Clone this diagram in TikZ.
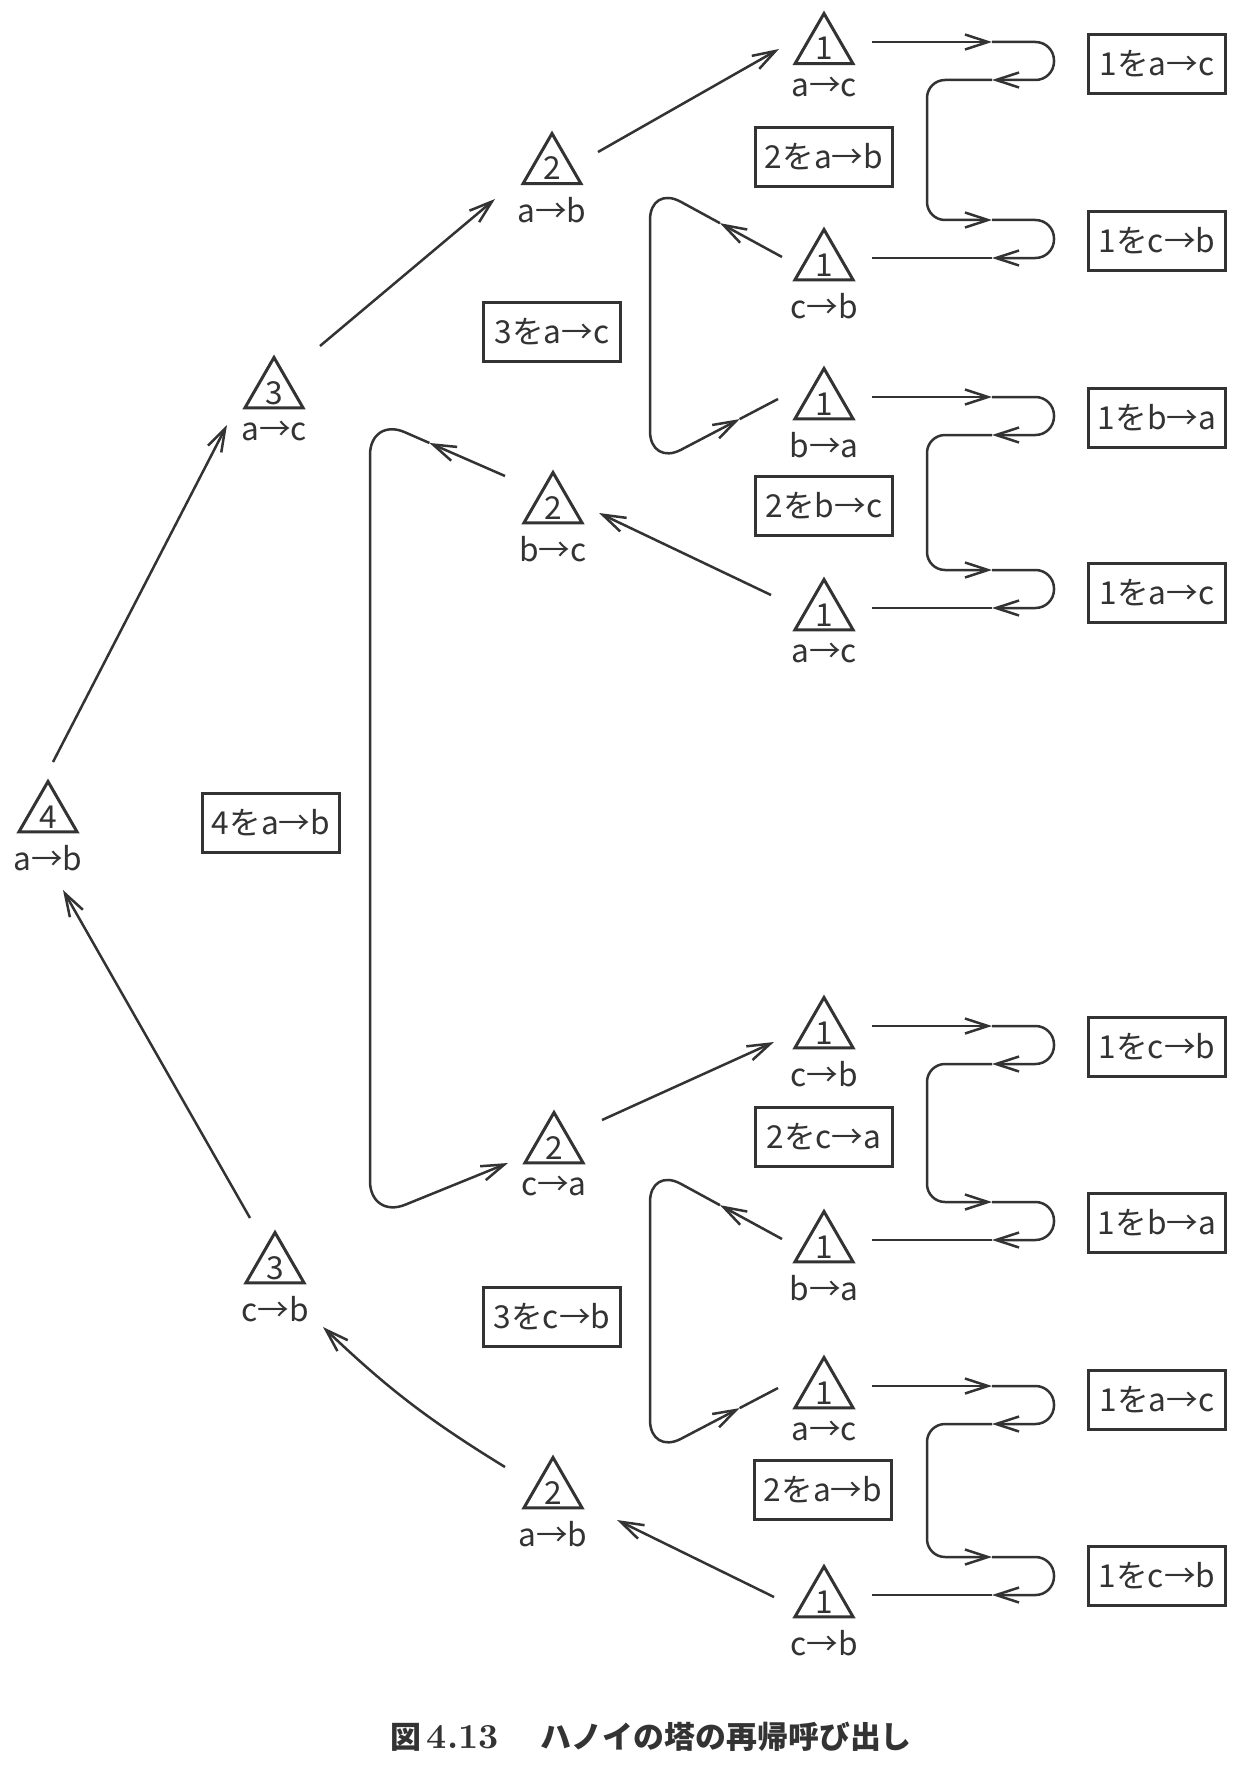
\documentclass[tikz,border=0pt]{standalone}
\usepackage{fontspec}
\newfontfamily\jpfont{Noto Sans CJK JP}
\usepackage{tikz}
\usetikzlibrary{positioning, shapes.geometric, calc, arrows.meta}

\definecolor{ink}{HTML}{333333}

\tikzset{
  calltri/.style={regular polygon, regular polygon sides=3, draw=ink, line width=0.3mm,
    minimum size=6.7mm, inner sep=0pt, text=ink, font=\jpfont\fontsize{9}{10}\selectfont},
  pegtext/.style={inner sep=0pt, text=ink, font=\jpfont\fontsize{9}{10}\selectfont},
  movebox/.style={draw=ink, line width=0.3mm, minimum width=13.7mm, minimum height=5.9mm,
    inner sep=0pt, text=ink, font=\jpfont\fontsize{9}{10}\selectfont},
  wire/.style={draw=ink, line width=0.25mm},
  flow/.style={wire, -{Straight Barb[length=2.3mm, width=1.5mm]}}
}

% triangle with the number of discs, the move written below it
\newcommand\callnode[4]{%
  \node[calltri] (#1) at (#2) {\smash{\raisebox{-1.3mm}{#3}}};
  \node[pegtext, below=1.1mm of #1] (#1l) {#4};
}

\begin{document}
\begin{tikzpicture}[x=0.1mm, y=-0.1mm]
  \useasboundingbox (0,0) rectangle (1244,1771);

  % Calls
  \callnode{t4}{48,815}{4}{a→b}
  \callnode{t3a}{274,391}{3}{a→c}
  \callnode{t3b}{275,1266}{3}{c→b}
  \callnode{t2a}{552,167}{2}{a→b}
  \callnode{t2b}{553,506}{2}{b→c}
  \callnode{t2c}{554,1146}{2}{c→a}
  \callnode{t2d}{553,1491}{2}{a→b}
  \callnode{t1a}{824,47}{1}{a→c}
  \callnode{t1b}{824,263}{1}{c→b}
  \callnode{t1c}{824,402}{1}{b→a}
  \callnode{t1d}{824,613}{1}{a→c}
  \callnode{t1e}{824,1031}{1}{c→b}
  \callnode{t1f}{824,1245}{1}{b→a}
  \callnode{t1g}{824,1391}{1}{a→c}
  \callnode{t1h}{824,1600}{1}{c→b}

  % Moves
  \node[movebox] (b4) at (271,823) {4をa→b};
  \node[movebox] (b3a) at (552,332) {3をa→c};
  \node[movebox] (b3b) at (552,1317) {3をc→b};
  \node[movebox] (b2a) at (824,157) {2をa→b};
  \node[movebox] (b2b) at (824,506) {2をb→c};
  \node[movebox] (b2c) at (824,1137) {2をc→a};
  \node[movebox] (b2d) at (823,1490) {2をa→b};
  \node[movebox] (b1a) at (1157,64) {1をa→c};
  \node[movebox] (b1b) at (1157,241) {1をc→b};
  \node[movebox] (b1c) at (1157,418) {1をb→a};
  \node[movebox] (b1d) at (1157,593) {1をa→c};
  \node[movebox] (b1e) at (1157,1047) {1をc→b};
  \node[movebox] (b1f) at (1157,1223) {1をb→a};
  \node[movebox] (b1g) at (1157,1400) {1をa→c};
  \node[movebox] (b1h) at (1157,1576) {1をc→b};

  % Lanes
  \coordinate (tipx) at (992,0);
  \coordinate (turnx) at (1054,0);
  \coordinate (lane1) at (927,0);
  \coordinate (lane2) at (650,0);
  \coordinate (lane3) at (370,0);

  % Calls going down
  \draw[flow] ($(t4)+(5,-53)$) -- ($(t3a)+(-47,34)$);
  \draw[flow] ($(t3a)+(46,-45)$) -- ($(t2a)+(-57,32)$);
  \draw[flow] ($(t2a)+(46,-15)$) -- ($(t1a)+(-45,2)$);
  \draw[flow] ($(t2c)+(48,-26)$) -- ($(t1e)+(-50,11)$);

  % Returns
  \draw[flow] ($(t1d)+(-53,-18)$) -- ($(t2b)+(46,7)$);
  \draw[flow] ($(t1h)+(-50,-3)$) -- ($(t2d)+(64,29)$);
  \draw[flow] ($(t2d)+(-48,-24)$) to[bend left=6] ($(t3b)+(48,61)$);
  \draw[flow] ($(t3b)+(-25,-48)$) -- ($(t4)+(15,75)$);

  % Loops round the one-disc moves
  \foreach \up/\dn in {t1a/t1b, t1c/t1d, t1e/t1f, t1g/t1h} {
    \path ($(\up)+(48,-5)$) coordinate (s) ++(0,38) coordinate (r)
          ($(\dn)+(48,-5)$) coordinate (e) ++(0,-38) coordinate (f);
    \draw[flow] (s) -- (s -| tipx);
    \draw[flow, rounded corners=1.85mm] (s -| tipx) -- (s -| turnx) -- (r -| turnx) -- (r -| tipx);
    \draw[flow, rounded corners=1.8mm] (r -| tipx) -- (r -| lane1) -- (f -| lane1) -- (f -| tipx);
    \draw[flow, rounded corners=1.85mm] (f -| tipx) -- (f -| turnx) -- (e -| turnx) -- (e -| tipx);
    \draw[wire] (e -| tipx) -- (e);
  }

  % Passing the two-disc moves
  \foreach \up/\dn in {t1b/t1c, t1f/t1g} {
    \path ($(\up)+(-42,-6)$) coordinate (s)
          ($(\up)+(0,-78)$) coordinate (ph)
          ($(\dn)+(0,64)$) coordinate (pl)
          ($(\dn)+(-46,-3)$) coordinate (e);
    \path (ph -| lane2) coordinate (p1) (pl -| lane2) coordinate (p2);
    \draw[flow] (s) -- ($(s)!0.47!(p1)$);
    \draw[flow, rounded corners=3.5mm] ($(s)!0.47!(p1)$) -- (p1) -- (p2) -- ($(p2)!0.7!(e)$);
    \draw[wire] ($(p2)!0.7!(e)$) -- (e);
  }

  % Passing the four-disc move
  \path ($(t2b)+(-48,-30)$) coordinate (s3)
        ($(t2b)+(0,-89)$) coordinate (qh)
        ($(t2c)+(0,73)$) coordinate (ql)
        ($(t2c)+(-46,17)$) coordinate (e3);
  \path (qh -| lane3) coordinate (q1) (ql -| lane3) coordinate (q2);
  \draw[flow] (s3) -- ($(s3)!0.56!(q1)$);
  \draw[flow, rounded corners=3.8mm] ($(s3)!0.56!(q1)$) -- (q1) -- (q2) -- (e3);

  % Caption
  \node[text=ink, inner sep=0pt] (caption) at (651,1737)
    {{\jpfont\bfseries\fontsize{8.8}{10}\selectfont 図}\,{\bfseries\fontsize{10}{12}\selectfont 4.13}\hspace{4.2mm}{\jpfont\bfseries\fontsize{8.8}{10}\selectfont ハノイの塔の再帰呼び出し}};
\end{tikzpicture}
\end{document}
